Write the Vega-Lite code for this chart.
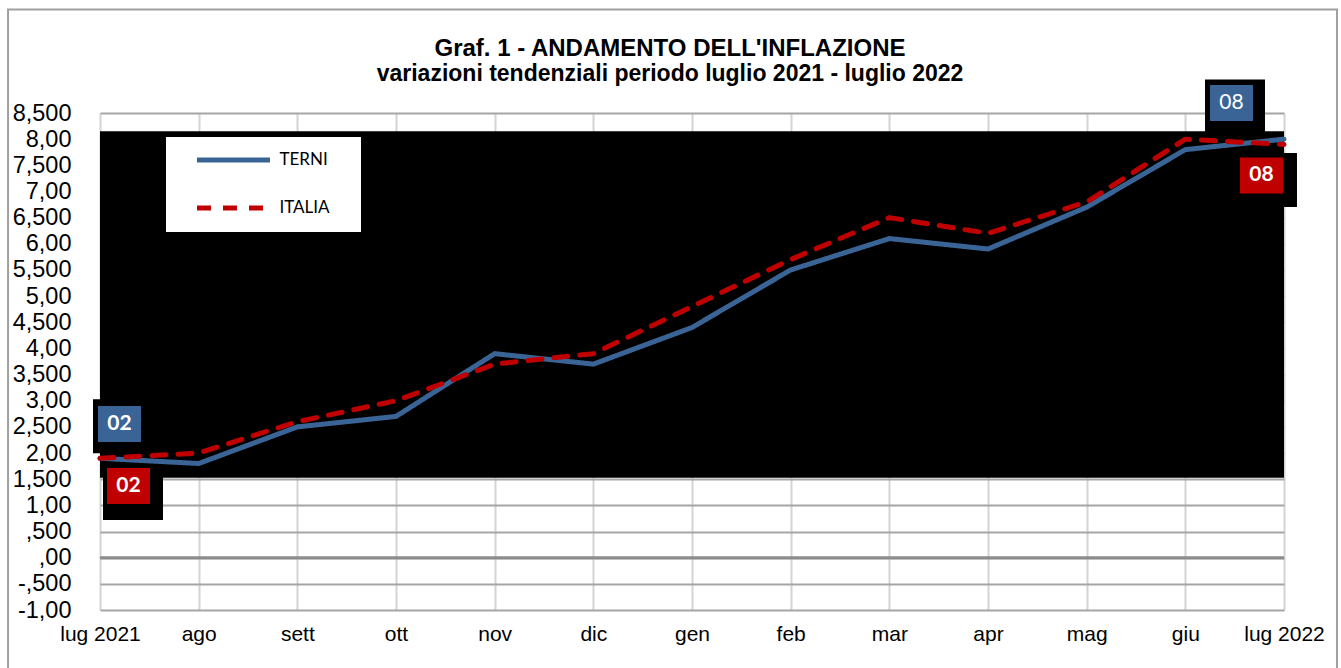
{
  "$schema": "https://vega.github.io/schema/vega-lite/v6.json",
  "autosize": {"type": "none"},
  "padding": {"left": 100, "top": 113, "right": 57, "bottom": 58},
  "width": 1184,
  "height": 497,
  "background": "white",
  "title": {
    "text": "Graf. 1 - ANDAMENTO DELL'INFLAZIONE",
    "subtitle": "variazioni tendenziali periodo luglio 2021 - luglio 2022",
    "anchor": "middle",
    "frame": "group",
    "dx": -22,
    "offset": -78,
    "font": "Liberation Sans",
    "fontSize": 24,
    "fontWeight": "bold",
    "color": "#000000",
    "subtitleFont": "Liberation Sans",
    "subtitleFontSize": 23,
    "subtitleFontWeight": "bold",
    "subtitleColor": "#000000",
    "subtitlePadding": 2
  },
  "datasets": {
    "inflazione": [
      {"mese": "lug 2021", "i": 0, "serie": "TERNI", "valore": 1.9},
      {"mese": "ago", "i": 1, "serie": "TERNI", "valore": 1.8},
      {"mese": "sett", "i": 2, "serie": "TERNI", "valore": 2.5},
      {"mese": "ott", "i": 3, "serie": "TERNI", "valore": 2.7},
      {"mese": "nov", "i": 4, "serie": "TERNI", "valore": 3.9},
      {"mese": "dic", "i": 5, "serie": "TERNI", "valore": 3.7},
      {"mese": "gen", "i": 6, "serie": "TERNI", "valore": 4.4},
      {"mese": "feb", "i": 7, "serie": "TERNI", "valore": 5.5},
      {"mese": "mar", "i": 8, "serie": "TERNI", "valore": 6.1},
      {"mese": "apr", "i": 9, "serie": "TERNI", "valore": 5.9},
      {"mese": "mag", "i": 10, "serie": "TERNI", "valore": 6.7},
      {"mese": "giu", "i": 11, "serie": "TERNI", "valore": 7.8},
      {"mese": "lug 2022", "i": 12, "serie": "TERNI", "valore": 8.0},
      {"mese": "lug 2021", "i": 0, "serie": "ITALIA", "valore": 1.9},
      {"mese": "ago", "i": 1, "serie": "ITALIA", "valore": 2.0},
      {"mese": "sett", "i": 2, "serie": "ITALIA", "valore": 2.6},
      {"mese": "ott", "i": 3, "serie": "ITALIA", "valore": 3.0},
      {"mese": "nov", "i": 4, "serie": "ITALIA", "valore": 3.7},
      {"mese": "dic", "i": 5, "serie": "ITALIA", "valore": 3.9},
      {"mese": "gen", "i": 6, "serie": "ITALIA", "valore": 4.8},
      {"mese": "feb", "i": 7, "serie": "ITALIA", "valore": 5.7},
      {"mese": "mar", "i": 8, "serie": "ITALIA", "valore": 6.5},
      {"mese": "apr", "i": 9, "serie": "ITALIA", "valore": 6.2},
      {"mese": "mag", "i": 10, "serie": "ITALIA", "valore": 6.8},
      {"mese": "giu", "i": 11, "serie": "ITALIA", "valore": 8.0},
      {"mese": "lug 2022", "i": 12, "serie": "ITALIA", "valore": 7.9}
    ]
  },
  "data": {"name": "inflazione"},
  "layer": [
    {
      "data": {"values": [{}]},
      "mark": {"type": "rect", "fill": "transparent", "stroke": "#a0a0a0", "strokeWidth": 2, "clip": false},
      "encoding": {
        "x": {"datum": -0.932, "type": "quantitative"},
        "x2": {"datum": 12.537},
        "y": {"datum": 10.48, "type": "quantitative"},
        "y2": {"datum": -2.6}
      }
    },
    {
      "data": {"values": [{}]},
      "mark": {"type": "rule", "color": "#8c8c8c", "strokeWidth": 3},
      "encoding": {"y": {"datum": 0, "type": "quantitative"}}
    },
    {
      "data": {"values": [{}]},
      "mark": {"type": "rect", "fill": "#000000"},
      "encoding": {
        "x": {"datum": 0, "type": "quantitative"},
        "x2": {"datum": 12},
        "y": {"datum": 1.53, "type": "quantitative"},
        "y2": {"datum": 8.15}
      }
    },
    {
      "transform": [{"filter": "datum.serie == 'TERNI'"}],
      "mark": {"type": "line", "strokeWidth": 5, "strokeCap": "round", "strokeJoin": "miter"},
      "encoding": {
        "x": {
          "field": "i", "type": "quantitative", "title": null,
          "scale": {"domain": [0, 12], "nice": false, "zero": false},
          "axis": {
            "values": [0, 1, 2, 3, 4, 5, 6, 7, 8, 9, 10, 11, 12],
            "tickCount": 13,
            "labelExpr": "['lug 2021','ago','sett','ott','nov','dic','gen','feb','mar','apr','mag','giu','lug 2022'][datum.value]",
            "grid": true, "gridColor": "#d4d4d4", "gridWidth": 2,
            "ticks": false, "domain": false,
            "labelFont": "Liberation Sans", "labelFontSize": 21, "labelColor": "#000000",
            "labelPadding": 13, "labelOverlap": false, "labelFlush": false, "labelBound": false
          }
        },
        "y": {
          "field": "valore", "type": "quantitative", "title": null,
          "scale": {"domain": [-1, 8.5], "nice": false, "zero": false},
          "axis": {
            "values": [-1, -0.5, 0, 0.5, 1, 1.5, 2, 2.5, 3, 3.5, 4, 4.5, 5, 5.5, 6, 6.5, 7, 7.5, 8, 8.5],
            "tickCount": 40,
            "labelExpr": "(datum.value < 0 ? '-' : '') + (floor(abs(datum.value)) == 0 ? '' : floor(abs(datum.value))) + (abs(datum.value) % 1 == 0 ? ',00' : ',500')",
            "grid": true, "gridColor": "#a6a6a6", "gridWidth": 2,
            "ticks": false, "domain": false,
            "labelFont": "Liberation Sans", "labelFontSize": 23.5, "labelColor": "#000000",
            "labelPadding": 29, "labelOverlap": false, "labelBound": false
          }
        },
        "color": {
          "field": "serie", "type": "nominal", "title": null,
          "scale": {"domain": ["TERNI", "ITALIA"], "range": ["#3A6496", "#C00000"]},
          "legend": {
            "orient": "none", "legendX": 66, "legendY": 24, "fillColor": "#ffffff",
            "padding": 14, "rowPadding": 28,
            "symbolType": "M-6,0H6", "symbolSize": 148, "symbolStrokeWidth": 5,
            "symbolOffset": 44.5, "labelOffset": 37,
            "labelExpr": "datum.label + '\u00a0\u00a0\u00a0\u00a0\u200b'",
            "labelFont": "Lato", "labelFontSize": 17, "labelColor": "#000000"
          }
        },
        "strokeDash": {
          "field": "serie", "type": "nominal", "title": null,
          "scale": {"domain": ["TERNI", "ITALIA"], "range": [[1, 0], [14, 12]]},
          "legend": {
            "orient": "none", "legendX": 66, "legendY": 24, "fillColor": "#ffffff",
            "padding": 14, "rowPadding": 28,
            "symbolType": "M-6,0H6", "symbolSize": 148, "symbolStrokeWidth": 5,
            "symbolOffset": 44.5, "labelOffset": 37,
            "labelExpr": "datum.label + '\u00a0\u00a0\u00a0\u00a0\u200b'",
            "labelFont": "Lato", "labelFontSize": 17, "labelColor": "#000000"
          }
        }
      }
    },
    {
      "transform": [{"filter": "datum.serie == 'ITALIA'"}],
      "mark": {"type": "line", "strokeWidth": 5, "strokeCap": "round", "strokeJoin": "round"},
      "encoding": {
        "x": {"field": "i", "type": "quantitative"},
        "y": {"field": "valore", "type": "quantitative"},
        "color": {"field": "serie", "type": "nominal"},
        "strokeDash": {"field": "serie", "type": "nominal"}
      }
    },
    {
      "transform": [{"filter": "datum.serie == 'TERNI' && datum.i == 0"}],
      "encoding": {
        "x": {"field": "i", "type": "quantitative"},
        "y": {"field": "valore", "type": "quantitative"}
      },
      "layer": [
        {"mark": {"type": "point", "shape": "M-1.111,-1H1.111V1H-1.111Z", "size": 2916, "filled": true, "fill": "#000000", "opacity": 1, "strokeWidth": 0, "xOffset": 23, "yOffset": -32}},
        {"mark": {"type": "point", "shape": "M-1.194,-1H1.194V1H-1.194Z", "size": 1296, "filled": true, "fill": "#3A6496", "opacity": 1, "strokeWidth": 0, "xOffset": 19.5, "yOffset": -34.4}},
        {"mark": {"type": "text", "dx": 19.5, "dy": -34.4, "fill": "#ffffff", "font": "Lato", "fontSize": 21, "fontWeight": "bold", "align": "center", "baseline": "middle"},
         "encoding": {"text": {"field": "valore", "type": "quantitative", "format": "02.0f"}}}
      ]
    },
    {
      "transform": [{"filter": "datum.serie == 'ITALIA' && datum.i == 0"}],
      "encoding": {
        "x": {"field": "i", "type": "quantitative"},
        "y": {"field": "valore", "type": "quantitative"}
      },
      "layer": [
        {"mark": {"type": "point", "shape": "M-1.111,-1H1.111V1H-1.111Z", "size": 2916, "filled": true, "fill": "#000000", "opacity": 1, "strokeWidth": 0, "xOffset": 33, "yOffset": 34.6}},
        {"mark": {"type": "point", "shape": "M-1.194,-1H1.194V1H-1.194Z", "size": 1296, "filled": true, "fill": "#C00000", "opacity": 1, "strokeWidth": 0, "xOffset": 28.5, "yOffset": 27.6}},
        {"mark": {"type": "text", "dx": 28.5, "dy": 27.6, "fill": "#ffffff", "font": "Lato", "fontSize": 21, "fontWeight": "bold", "align": "center", "baseline": "middle"},
         "encoding": {"text": {"field": "valore", "type": "quantitative", "format": "02.0f"}}}
      ]
    },
    {
      "transform": [{"filter": "datum.serie == 'TERNI' && datum.i == 12"}],
      "encoding": {
        "x": {"field": "i", "type": "quantitative"},
        "y": {"field": "valore", "type": "quantitative"}
      },
      "layer": [
        {"mark": {"type": "point", "shape": "M-1.111,-1H1.111V1H-1.111Z", "size": 2916, "filled": true, "fill": "#000000", "opacity": 1, "strokeWidth": 0, "xOffset": -49, "yOffset": -32.6}},
        {"mark": {"type": "point", "shape": "M-1.194,-1H1.194V1H-1.194Z", "size": 1296, "filled": true, "fill": "#3A6496", "opacity": 1, "strokeWidth": 0, "xOffset": -52.5, "yOffset": -36.1}},
        {"mark": {"type": "text", "dx": -52.5, "dy": -36.1, "fill": "#ffffff", "font": "Lato", "fontSize": 21, "fontWeight": "normal", "align": "center", "baseline": "middle"},
         "encoding": {"text": {"field": "valore", "type": "quantitative", "format": "02.0f"}}}
      ]
    },
    {
      "transform": [{"filter": "datum.serie == 'ITALIA' && datum.i == 12"}],
      "encoding": {
        "x": {"field": "i", "type": "quantitative"},
        "y": {"field": "valore", "type": "quantitative"}
      },
      "layer": [
        {"mark": {"type": "point", "shape": "M-1.111,-1H1.111V1H-1.111Z", "size": 2916, "filled": true, "fill": "#000000", "opacity": 1, "strokeWidth": 0, "xOffset": -17, "yOffset": 35.6}},
        {"mark": {"type": "point", "shape": "M-1.194,-1H1.194V1H-1.194Z", "size": 1296, "filled": true, "fill": "#C00000", "opacity": 1, "strokeWidth": 0, "xOffset": -22.5, "yOffset": 31.1}},
        {"mark": {"type": "text", "dx": -22.5, "dy": 31.1, "fill": "#ffffff", "font": "Lato", "fontSize": 21, "fontWeight": "bold", "align": "center", "baseline": "middle"},
         "encoding": {"text": {"field": "valore", "type": "quantitative", "format": "02.0f"}}}
      ]
    }
  ],
  "config": {
    "view": {"stroke": null}
  }
}
